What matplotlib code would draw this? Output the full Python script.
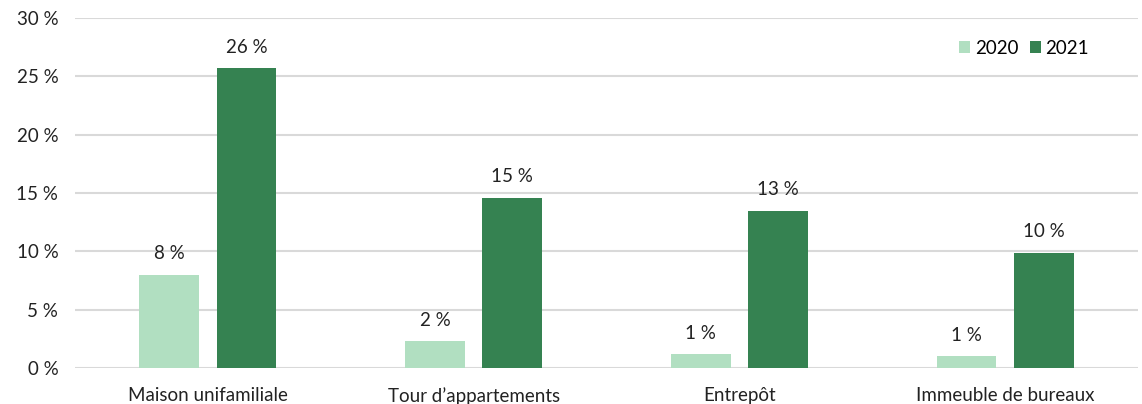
import numpy as np
import matplotlib
matplotlib.use('Agg')
from matplotlib import pyplot as plt

# Data
categories = ['Maison unifamiliale', "Tour d\u2019appartements", 'Entrep\u00f4t', 'Immeuble de bureaux']
series_names = ['2020', '2021']
values_2020 = [8.0, 2.3, 1.2, 1.0]
values_2021 = [25.7, 14.6, 13.5, 9.9]
labels_2020 = ['8\u202f%', '2\u202f%', '1\u202f%', '1\u202f%']
labels_2021 = ['26\u202f%', '15\u202f%', '13\u202f%', '10\u202f%']
yticks = [0, 5, 10, 15, 20, 25, 30]

plt.rcParams['font.family'] = ['Lato', 'DejaVu Sans']
c_light = '#b1dfc1'
c_dark = '#358251'
fs = 13.5

fig = plt.figure(figsize=(11.42, 4.04), dpi=100)
ax = fig.add_axes([0.0657, 0.0891, 0.9308, 0.8663])

x = np.arange(len(categories))
w = 0.225
off = 0.145
b1 = ax.bar(x - off, values_2020, w, color=c_light, label=series_names[0], zorder=3)
b2 = ax.bar(x + off, values_2021, w, color=c_dark, label=series_names[1], zorder=3)
ax.bar_label(b1, labels=labels_2020, padding=9, fontsize=fs, color='#222222')
ax.bar_label(b2, labels=labels_2021, padding=9, fontsize=fs, color='#222222')

ax.set_xlim(-0.5, len(categories) - 0.5)
ax.set_ylim(0, 30)
ax.set_yticks(yticks)
ax.set_yticklabels([f'{t}\u202f%' for t in yticks])
ax.set_xticks(x)
ax.set_xticklabels(categories)
ax.tick_params(axis='y', length=0, pad=12, labelsize=fs, labelcolor='#222222')
ax.tick_params(axis='x', length=0, pad=14, labelsize=fs, labelcolor='#222222')
ax.grid(axis='y', color='#d9d9d9', linewidth=1.5, zorder=0)
for s in ax.spines.values():
    s.set_visible(False)

ax.legend(loc='center right', bbox_to_anchor=(0.954, 0.914), ncol=2, frameon=False,
          fontsize=fs, handlelength=0.6, handleheight=0.6, handletextpad=0.25,
          columnspacing=0.6, borderpad=0, borderaxespad=0)

plt.savefig('out.png', dpi=100)
